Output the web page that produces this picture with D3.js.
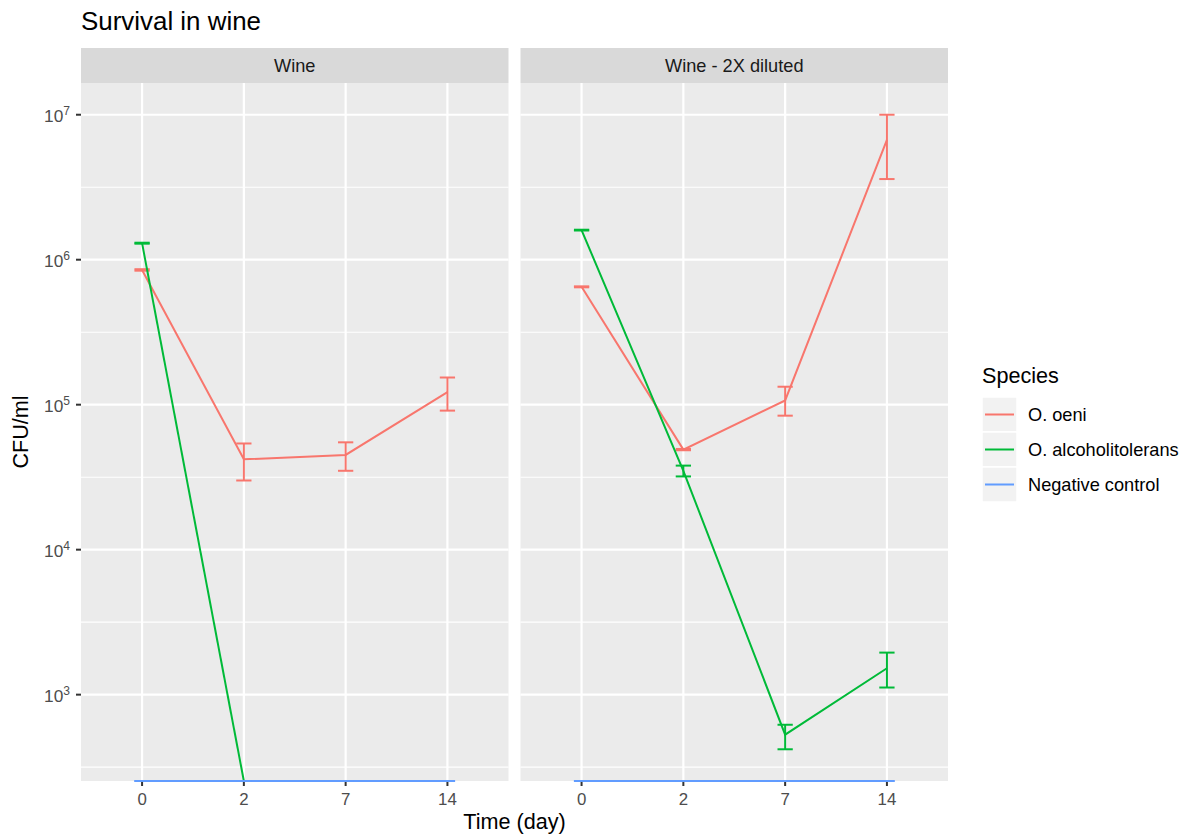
<!DOCTYPE html>
<html>
<head>
<meta charset="utf-8">
<script src="https://cdn.jsdelivr.net/npm/d3@7"></script>
<style>
  body { margin: 0; background: #fff; }
  text { font-family: "Liberation Sans", Arial, Helvetica, sans-serif; }
</style>
</head>
<body>
<div class="canvas"></div>
<script>
// categories
const days = ["0", "2", "7", "14"];
const panels = ["Wine", "Wine - 2X diluted"];
const species = ["O. oeni", "O. alcoholitolerans", "Negative control"];
const colors = ["#F8766D", "#00BA38", "#619CFF"];
const yTicks = [3, 4, 5, 6, 7];

// Wine (0 = nothing counted, drawn at the bottom edge; null = not measured)
const wineOeniMean = [8.5e5, 4.2e4, 4.5e4, 1.22e5];
const wineOeniLow = [8.4e5, 3.0e4, 3.5e4, 9.1e4];
const wineOeniHigh = [8.6e5, 5.4e4, 5.5e4, 1.54e5];
const wineAlcoMean = [1.3e6, 0, null, null];
const wineAlcoLow = [1.29e6, 0, null, null];
const wineAlcoHigh = [1.31e6, 0, null, null];
const wineCtrlMean = [0, 0, 0, 0];

// Wine - 2X diluted
const dilOeniMean = [6.5e5, 4.9e4, 1.07e5, 6.7e6];
const dilOeniLow = [6.45e5, 4.85e4, 8.4e4, 3.6e6];
const dilOeniHigh = [6.55e5, 4.95e4, 1.33e5, 1.0e7];
const dilAlcoMean = [1.6e6, 3.5e4, 530, 1520];
const dilAlcoLow = [1.59e6, 3.2e4, 420, 1120];
const dilAlcoHigh = [1.61e6, 3.8e4, 620, 1950];
const dilCtrlMean = [0, 0, 0, 0];

const panelSeries = [
  [
    { mean: wineOeniMean, low: wineOeniLow, high: wineOeniHigh },
    { mean: wineAlcoMean, low: wineAlcoLow, high: wineAlcoHigh },
    { mean: wineCtrlMean, low: wineCtrlMean, high: wineCtrlMean },
  ],
  [
    { mean: dilOeniMean, low: dilOeniLow, high: dilOeniHigh },
    { mean: dilAlcoMean, low: dilAlcoLow, high: dilAlcoHigh },
    { mean: dilCtrlMean, low: dilCtrlMean, high: dilCtrlMean },
  ],
];

const W = 1187, H = 839;
const panelTop = 83, panelBottom = 781, stripTop = 48;
const panelX = [81, 520.5];
const panelW = 427.5;
const base = 21.6;

const svg = d3.select(".canvas").append("svg").attr("width", W).attr("height", H);

// y domain from data, log10 with 5% expansion like ggplot
let allVals = [];
panelSeries.forEach((p) => p.forEach((s) => {
  [s.mean, s.low, s.high].forEach((arr) => arr.forEach((v) => { if (v != null && v > 0) allVals.push(Math.log10(v)); }));
}));
const lmin = d3.min(allVals), lmax = d3.max(allVals);
const pad = (lmax - lmin) * 0.05;
const y = d3.scaleLog()
  .domain([Math.pow(10, lmin - pad), Math.pow(10, lmax + pad)])
  .range([panelBottom, panelTop]);
let yv = (v) => (v > 0 ? y(v) : panelBottom);

const x = d3.scalePoint().domain(days).range([0, panelW]).padding(0.6);
const capHalf = x.step() * 0.075;

// title
svg.append("text").attr("x", 81).attr("y", 30)
  .attr("font-size", base * 1.2).attr("fill", "#000").text("Survival in wine");

panels.forEach((name, pi) => {
  const g = svg.append("g").attr("transform", "translate(" + panelX[pi] + ",0)");

  // strip
  g.append("rect").attr("x", 0).attr("y", stripTop).attr("width", panelW)
    .attr("height", panelTop - stripTop).attr("fill", "#d9d9d9");
  g.append("text").attr("x", panelW / 2).attr("y", (stripTop + panelTop) / 2 + 6)
    .attr("text-anchor", "middle").attr("font-size", 18.2).attr("fill", "#1a1a1a").text(name);

  // panel background
  g.append("rect").attr("x", 0).attr("y", panelTop).attr("width", panelW)
    .attr("height", panelBottom - panelTop).attr("fill", "#ebebeb");

  // minor grid (half decades)
  const minor = [2.5, 3.5, 4.5, 5.5, 6.5, 7.5].filter((m) => {
    const v = Math.pow(10, m);
    return v > y.domain()[0] && v < y.domain()[1];
  });
  g.selectAll(".minor").data(minor).enter().append("line")
    .attr("x1", 0).attr("x2", panelW)
    .attr("y1", (d) => y(Math.pow(10, d))).attr("y2", (d) => y(Math.pow(10, d)))
    .attr("stroke", "#fff").attr("stroke-width", 1.1);

  // major grid
  g.selectAll(".majy").data(yTicks).enter().append("line")
    .attr("x1", 0).attr("x2", panelW)
    .attr("y1", (d) => y(Math.pow(10, d))).attr("y2", (d) => y(Math.pow(10, d)))
    .attr("stroke", "#fff").attr("stroke-width", 2.2);
  g.selectAll(".majx").data(days).enter().append("line")
    .attr("x1", (d) => x(d)).attr("x2", (d) => x(d))
    .attr("y1", panelTop).attr("y2", panelBottom)
    .attr("stroke", "#fff").attr("stroke-width", 2.2);

  // x axis ticks + labels
  g.selectAll(".xt").data(days).enter().append("line")
    .attr("x1", (d) => x(d)).attr("x2", (d) => x(d))
    .attr("y1", panelBottom).attr("y2", panelBottom + 5)
    .attr("stroke", "#333").attr("stroke-width", 2);
  g.selectAll(".xl").data(days).enter().append("text")
    .attr("x", (d) => x(d)).attr("y", panelBottom + 24)
    .attr("text-anchor", "middle").attr("font-size", base * 0.78).attr("fill", "#4d4d4d")
    .text((d) => d);

  // series
  panelSeries[pi].forEach((s, si) => {
    const pts = days.map((d, i) => ({ d: d, m: s.mean[i], lo: s.low[i], hi: s.high[i] }))
      .filter((p) => p.m != null);
    const line = d3.line().x((p) => x(p.d)).y((p) => yv(p.m));
    g.append("path").datum(pts).attr("d", line)
      .attr("fill", "none").attr("stroke", colors[si]).attr("stroke-width", 2);

    const eb = g.selectAll(".eb" + si).data(pts).enter().append("g");
    eb.append("line").attr("x1", (p) => x(p.d)).attr("x2", (p) => x(p.d))
      .attr("y1", (p) => yv(p.lo)).attr("y2", (p) => yv(p.hi))
      .attr("stroke", colors[si]).attr("stroke-width", 2);
    eb.append("line").attr("x1", (p) => x(p.d) - capHalf).attr("x2", (p) => x(p.d) + capHalf)
      .attr("y1", (p) => yv(p.lo)).attr("y2", (p) => yv(p.lo))
      .attr("stroke", colors[si]).attr("stroke-width", 2);
    eb.append("line").attr("x1", (p) => x(p.d) - capHalf).attr("x2", (p) => x(p.d) + capHalf)
      .attr("y1", (p) => yv(p.hi)).attr("y2", (p) => yv(p.hi))
      .attr("stroke", colors[si]).attr("stroke-width", 2);
  });
});

// y axis (left panel only)
const ya = svg.append("g");
ya.selectAll("line").data(yTicks).enter().append("line")
  .attr("x1", panelX[0] - 5).attr("x2", panelX[0])
  .attr("y1", (d) => y(Math.pow(10, d))).attr("y2", (d) => y(Math.pow(10, d)))
  .attr("stroke", "#333").attr("stroke-width", 2);
const yl = ya.selectAll("text").data(yTicks).enter().append("text")
  .attr("x", panelX[0] - 11).attr("y", (d) => y(Math.pow(10, d)) + 7)
  .attr("text-anchor", "end").attr("font-size", base * 0.8).attr("fill", "#4d4d4d");
yl.append("tspan").text("10");
yl.append("tspan").attr("dy", -7).attr("font-size", base * 0.56).text((d) => d);

// axis titles
svg.append("text").attr("x", (panelX[0] + panelX[1] + panelW) / 2).attr("y", 829)
  .attr("text-anchor", "middle").attr("font-size", base).attr("fill", "#000").text("Time (day)");
svg.append("text").attr("transform", "translate(28," + (panelTop + panelBottom) / 2 + ") rotate(-90)")
  .attr("text-anchor", "middle").attr("font-size", base).attr("fill", "#000").text("CFU/ml");

// legend
const lg = svg.append("g").attr("transform", "translate(982,0)");
lg.append("text").attr("x", 0).attr("y", 383).attr("font-size", base).attr("fill", "#000").text("Species");
const keySize = 35, keyTop = 397;
const items = lg.selectAll(".key").data(species).enter().append("g")
  .attr("transform", (d, i) => "translate(0," + (keyTop + i * keySize) + ")");
items.append("rect").attr("width", keySize).attr("height", keySize)
  .attr("fill", "#f2f2f2").attr("stroke", "#fff").attr("stroke-width", 1.5);
items.append("line").attr("x1", 3).attr("x2", keySize - 3)
  .attr("y1", keySize / 2).attr("y2", keySize / 2)
  .attr("stroke", (d, i) => colors[i]).attr("stroke-width", 2);
items.append("text").attr("x", keySize + 11).attr("y", keySize / 2 + 6)
  .attr("font-size", 18.2).attr("fill", "#000").text((d) => d);
</script>
</body>
</html>
